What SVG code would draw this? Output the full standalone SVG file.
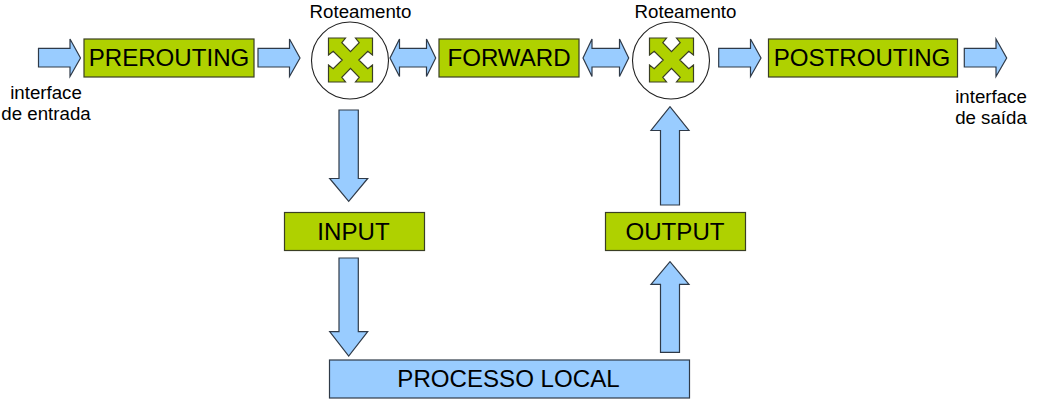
<svg xmlns="http://www.w3.org/2000/svg" xmlns:xlink="http://www.w3.org/1999/xlink" width="1039" height="409" viewBox="0 0 1039 409">
<style>
text{font-family:"Liberation Sans",Arial,sans-serif;fill:#000;text-anchor:middle}
.t{font-size:24.1px}.s{font-size:18.7px}
.g{fill:#afd100;stroke:#3a3f24;stroke-width:1.2}
.b{fill:#99ccff;stroke:#2f3a48;stroke-width:1.2;stroke-linejoin:miter}
.c{fill:#fff;stroke:#222;stroke-width:1.1}
</style>
<defs>
<path id="x" class="g" d="M-22-22H-5L-8.7-17.3L0-8.3L8.7-17.3L5-22H22V-5L17.3-8.7L8.3 0L17.3 8.7L22 5V22H5L8.7 17.3L0 8.3L-8.7 17.3L-5 22H-22V5L-17.3 8.7L-8.3 0L-17.3-8.7L-22-5Z"/>
</defs>
<g id="connectors">
<path class="b" d="M38.5 48.3H70V39L80.5 58L70 76.5V67H38.5Z"/>
<path class="b" d="M258 48.3H289.5V39L300 58L289.5 76.5V67H258Z"/>
<path class="b" d="M390 58L399.5 39V48.3H426.5V39L435.7 58L426.5 76.5V67H399.5V76.5Z"/>
<path class="b" d="M583 58L592 39V48.3H619.5V39L628.7 58L619.5 76.5V67H592V76.5Z"/>
<path class="b" d="M718.7 48.3H750.5V39L761 58L750.5 76.5V67H718.7Z"/>
<path class="b" d="M964.3 48.3H996V39L1006.7 58L996 76.5V67H964.3Z"/>
<path class="b" d="M339 110H358.3V178.5H367.7L348.7 201.3L329.7 178.5H339Z"/>
<path class="b" d="M339 258H358.3V331.7H367.7L348.7 356L329.7 331.7H339Z"/>
<path class="b" d="M660.5 352.3H679.5V284.3H689L670 261.7L651 284.3H660.5Z"/>
<path class="b" d="M660.5 205H679.5V130.5H689L670 106.7L651 130.5H660.5Z"/>
</g>
<g id="prerouting"><rect class="g" x="84" y="39" width="170" height="38"/><text class="t" x="169" y="66">PREROUTING</text></g>
<g id="forward"><rect class="g" x="439" y="39" width="140" height="38"/><text class="t" x="509" y="66">FORWARD</text></g>
<g id="postrouting"><rect class="g" x="768.5" y="39" width="189" height="38"/><text class="t" x="862" y="66">POSTROUTING</text></g>
<g id="input"><rect class="g" x="284.5" y="212.5" width="140" height="38"/><text class="t" x="353.5" y="240">INPUT</text></g>
<g id="output"><rect class="g" x="605.5" y="212.5" width="140" height="38"/><text class="t" x="675" y="240">OUTPUT</text></g>
<g id="processo-local"><rect class="b" x="329.5" y="360" width="360" height="38"/><text class="t" x="508.5" y="387">PROCESSO LOCAL</text></g>
<g id="roteamento-1"><circle class="c" cx="350" cy="60.5" r="38.5"/><use xlink:href="#x" href="#x" x="350.5" y="60"/><text class="s" x="360.5" y="18">Roteamento</text></g>
<g id="roteamento-2"><circle class="c" cx="671" cy="60.5" r="38.5"/><use xlink:href="#x" href="#x" x="671.5" y="60"/><text class="s" x="685.5" y="18">Roteamento</text></g>
<g id="interface-entrada"><text class="s" x="46" y="99">interface</text><text class="s" x="46" y="120">de entrada</text></g>
<g id="interface-saida"><text class="s" x="991" y="103">interface</text><text class="s" x="991" y="124">de saída</text></g>
</svg>
